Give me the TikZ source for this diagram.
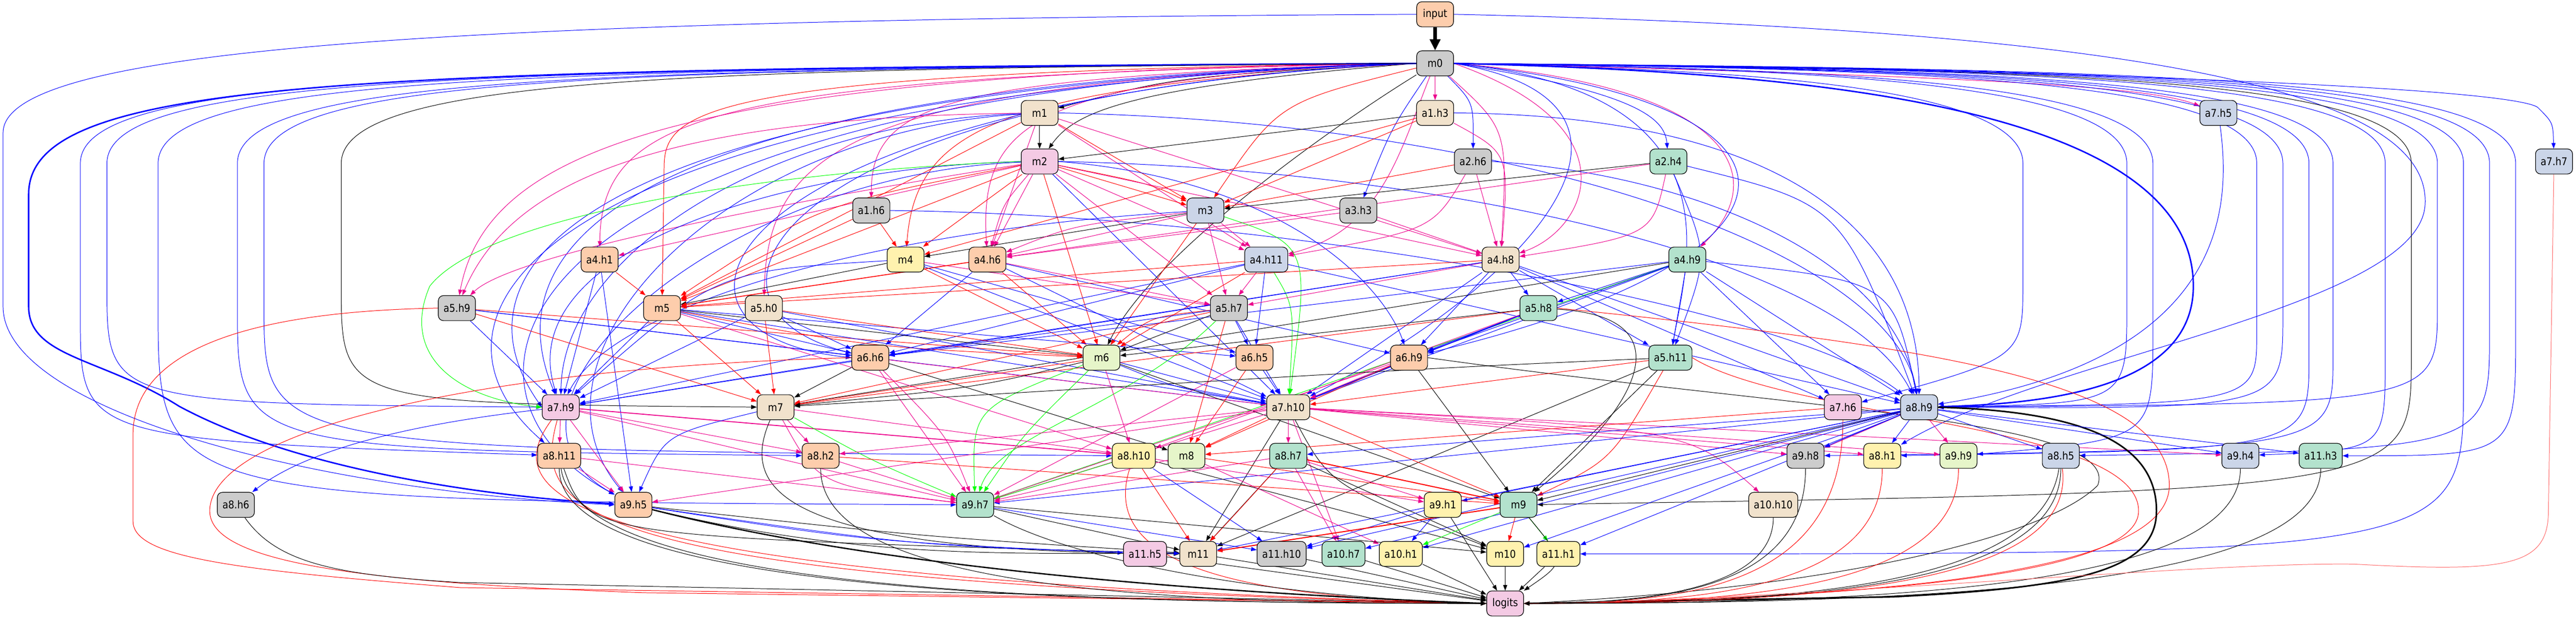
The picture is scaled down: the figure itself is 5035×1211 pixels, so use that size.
\documentclass[tikz,border=0pt]{standalone}
\usepackage{fontspec}
\setmainfont{DejaVu Sans}
\newfontfamily\nodefont[FakeStretch=0.88]{DejaVu Sans}
\usetikzlibrary{arrows.meta,backgrounds}
\definecolor{cPe}{HTML}{FDCDAC}
\definecolor{cGr}{HTML}{CCCCCC}
\definecolor{cWh}{HTML}{F1E2CC}
\definecolor{cBl}{HTML}{CBD5E8}
\definecolor{cPk}{HTML}{F4CAE4}
\definecolor{cGn}{HTML}{B3E2CD}
\definecolor{cYe}{HTML}{FFF2AE}
\definecolor{cLg}{HTML}{E6F5C9}
\newcommand\tologL[3][ek]{\draw[#1] (#2) .. controls (#3,1150) and ({(#3+2900)/2},1181) .. (logits);}
\newcommand\tologR[3][ek]{\draw[#1] (#2) .. controls (#3,1150) and ({(#3+2990)/2},1181) .. (logits);}
\newcommand\lfan[5][eb]{\draw[#1] (m0.west) .. controls ({#2+700},135) and (#2,150) .. (#2,320) -- (#2,#3) .. controls #4 .. (#5);}
\newcommand\rfan[5][eb]{\draw[#1] (m0.east) .. controls ({#2-700},135) and (#2,150) .. (#2,320) -- (#2,#3) .. controls #4 .. (#5);}
\tikzset{
 nd/.style={draw=black, line width=0.6pt, rounded corners=5pt, minimum width=36pt, minimum height=24.5pt, inner xsep=5pt, inner ysep=0pt, font=\nodefont\fontsize{10.5}{12}\selectfont},
 e/.style={-{Triangle[length=5.5pt,width=4pt]}, line width=0.5pt},
 eb/.style={e, draw=blue},
 er/.style={e, draw=red},
 em/.style={e, draw=magenta},
 ek/.style={e, draw=black},
 eg/.style={e, draw=green},
 thk/.style={line width=1.4pt}
}
\begin{document}
\begin{tikzpicture}[x=0.5pt,y=-0.5pt]
\useasboundingbox (0,0) rectangle (5035,1211);
% nodes
\node[nd, fill=cPe] (input) at (2805,28) {input};
\node[nd, fill=cGr] (m0) at (2805,124) {m0};
\node[nd, fill=cWh] (m1) at (2032,221) {m1};
\node[nd, fill=cWh] (a1h3) at (2805,221) {a1.h3};
\node[nd, fill=cBl] (a7h5) at (4336,221) {a7.h5};
\node[nd, fill=cPk] (m2) at (2032,316) {m2};
\node[nd, fill=cGr] (a2h6) at (2879,316) {a2.h6};
\node[nd, fill=cGn] (a2h4) at (3261,316) {a2.h4};
\node[nd, fill=cBl] (a7h7) at (4992,316) {a7.h7};
\node[nd, fill=cGr] (a1h6) at (1703,412) {a1.h6};
\node[nd, fill=cBl] (m3) at (2356,412) {m3};
\node[nd, fill=cGr] (a3h3) at (2655,412) {a3.h3};
\node[nd, fill=cPe] (a4h1) at (1172,508) {a4.h1};
\node[nd, fill=cYe] (m4) at (1770,508) {m4};
\node[nd, fill=cPe] (a4h6) at (1930,508) {a4.h6};
\node[nd, fill=cBl] (a4h11) at (2475,508) {a4.h11};
\node[nd, fill=cWh] (a4h8) at (2933,508) {a4.h8};
\node[nd, fill=cGn] (a4h9) at (3298,508) {a4.h9};
\node[nd, fill=cGr] (a5h9) at (893,603) {a5.h9};
\node[nd, fill=cPe] (m5) at (1294,603) {m5};
\node[nd, fill=cWh] (a5h0) at (1493,603) {a5.h0};
\node[nd, fill=cGr] (a5h7) at (2402,603) {a5.h7};
\node[nd, fill=cGn] (a5h8) at (3007,603) {a5.h8};
\node[nd, fill=cPe] (a6h6) at (1701,700) {a6.h6};
\node[nd, fill=cLg] (m6) at (2153,700) {m6};
\node[nd, fill=cPe] (a6h5) at (2452,700) {a6.h5};
\node[nd, fill=cPe] (a6h9) at (2754,700) {a6.h9};
\node[nd, fill=cGn] (a5h11) at (3265,700) {a5.h11};
\node[nd, fill=cPk] (a7h9) at (1096,797) {a7.h9};
\node[nd, fill=cWh] (m7) at (1516,797) {m7};
\node[nd, fill=cWh] (a7h10) at (2518,797) {a7.h10};
\node[nd, fill=cPk] (a7h6) at (3602,797) {a7.h6};
\node[nd, fill=cBl] (a8h9) at (3751,797) {a8.h9};
\node[nd, fill=cPe] (a8h11) at (1093,892) {a8.h11};
\node[nd, fill=cPe] (a8h2) at (1604,892) {a8.h2};
\node[nd, fill=cYe] (a8h10) at (2216,892) {a8.h10};
\node[nd, fill=cLg] (m8) at (2319,892) {m8};
\node[nd, fill=cGn] (a8h7) at (2518,892) {a8.h7};
\node[nd, fill=cGr] (a9h8) at (3529,892) {a9.h8};
\node[nd, fill=cYe] (a8h1) at (3679,892) {a8.h1};
\node[nd, fill=cLg] (a9h9) at (3828,892) {a9.h9};
\node[nd, fill=cBl] (a8h5) at (4028,892) {a8.h5};
\node[nd, fill=cBl] (a9h4) at (4379,892) {a9.h4};
\node[nd, fill=cGn] (a11h3) at (4536,892) {a11.h3};
\node[nd, fill=cGr] (a8h6) at (461,988) {a8.h6};
\node[nd, fill=cPe] (a9h5) at (1238,988) {a9.h5};
\node[nd, fill=cGn] (a9h7) at (1906,988) {a9.h7};
\node[nd, fill=cYe] (a9h1) at (2820,988) {a9.h1};
\node[nd, fill=cGn] (m9) at (2968,988) {m9};
\node[nd, fill=cWh] (a10h10) at (3466,988) {a10.h10};
\node[nd, fill=cPk] (a11h5) at (2238,1084) {a11.h5};
\node[nd, fill=cWh] (m11) at (2342,1084) {m11};
\node[nd, fill=cGr] (a11h10) at (2505,1084) {a11.h10};
\node[nd, fill=cGn] (a10h7) at (2626,1084) {a10.h7};
\node[nd, fill=cYe] (a10h1) at (2738,1084) {a10.h1};
\node[nd, fill=cYe] (m10) at (2942,1084) {m10};
\node[nd, fill=cYe] (a11h1) at (3046,1084) {a11.h1};
\node[nd, fill=cPk] (logits) at (2942,1181) {logits};

\begin{pgfonlayer}{background}
% input
\draw[ek, line width=3.3pt, -{Triangle[length=11pt,width=10pt]}] (input) -- (m0);
\draw[eb] (input.west) .. controls (800,38) and (6,100) .. (6,260) -- (6,600) .. controls (6,800) and (600,960) .. (a9h5.west);
\draw[eb] (input.east) .. controls (4300,60) and (4750,200) .. (4740,400) .. controls (4730,600) and (4000,700) .. (a8h1);
% m0
\draw[ek] (m0.west) .. controls (2300,150) .. (m1);
\draw[ek] (m0.west) .. controls (2200,170) and (2100,220) .. (m2);
\draw[em] (m0) -- (a1h3);
\draw[eb] (m0) .. controls (2880,200) .. (a2h6);
\draw[eb] (m0) .. controls (2720,250) .. (a3h3);
\draw[eb] (m0.east) .. controls (3196,180) and (3254,230) .. (a2h4);
\draw[er] (m0) .. controls (2500,200) .. (m3);
\draw[er] (m0.west) .. controls (1950,170) and (1790,250) .. (m4);
\draw[er] (m0.west) .. controls (1350,140) and (1298,220) .. (1298,330) -- (m5);
\draw[em] (m0.west) .. controls (1850,150) and (1703,200) .. (a1h6);
\draw[em] (m0.west) .. controls (1400,150) and (1175,220) .. (a4h1);
\draw[em] (m0.west) .. controls (1300,140) and (950,300) .. (a5h9);
\draw[em] (m0.west) .. controls (2000,150) and (1915,250) .. (a4h6);
\draw[em] (m0.west) .. controls (1650,160) and (1500,300) .. (a5h0);
\draw[em] (m0) .. controls (2735,300) and (2700,450) .. (a4h11);
\draw[em] (m0) .. controls (2947,253) .. (a4h8);
\draw[em] (m0.east) .. controls (3200,250) and (3100,450) .. (a4h8);
\draw[em] (m0.east) .. controls (3400,170) and (3460,350) .. (a4h9);
\draw[em] (m0.east) .. controls (3900,150) and (4200,170) .. (a7h5);
\draw[ek] (m0) .. controls (2600,250) and (2250,500) .. (m6);
\draw[eb] (m0.east) .. controls (3590,200) and (3590,500) .. (a6h9);
\draw[eb] (m0.east) .. controls (3300,200) and (3000,550) .. (a7h10);
\draw[eb] (m0.east) .. controls (3400,180) and (3300,500) .. (a5h11);
\draw[eb,thk] (m0.east) .. controls (3500,140) and (4287,200) .. (4287,560) .. controls (4287,760) and (4000,790) .. (a8h9);
\draw[eb,thk] (m0.west) .. controls (700,135) and (56,150) .. (56,380) -- (56,600) .. controls (56,700) and (200,700) .. (350,795) .. controls (600,930) and (1000,975) .. (a9h5);
\draw[eb] (m0.west) .. controls (1300,160) and (950,450) .. (a7h9);
\draw[eb] (m0.west) .. controls (1200,170) and (850,500) .. (a7h9.west);
\draw[eb] (m0.west) .. controls (1100,180) and (760,600) .. (a8h11);
\draw[eb] (m0.west) .. controls (1000,170) and (800,750) .. (a9h5);
\draw[eb] (m0.west) .. controls (1500,180) and (1300,600) .. (a6h6);
\draw[eb] (m0.west) .. controls (1400,190) and (1200,650) .. (a6h6.west);
\lfan{157}{620}{(157,860)}{a8h11}
\lfan{209}{560}{(209,790)}{a7h9}
\lfan{309}{600}{(309,980)}{a9h7}
\lfan{464}{600}{(464,880)}{a8h2}
\lfan{516}{600}{(516,880)}{a8h10}
\lfan[ek]{667}{560}{(667,790)}{m7}
\rfan{3954}{550}{(3954,700)}{a7h6}
\rfan{4157}{600}{(4157,790)}{a8h9}
\rfan{4208}{650}{(4208,860)}{a9h9}
\rfan{4411}{650}{(4411,790)}{a8h9}
\rfan{4462}{620}{(4462,800)}{a8h9}
\rfan{4513}{700}{(4513,880)}{a8h1}
\rfan{4560}{700}{(4560,880)}{a9h8}
\rfan{4662}{700}{(4662,880)}{a9h4}
\rfan[ek]{4713}{700}{(4713,960)}{m9}
\rfan{4764}{600}{(4764,790)}{a8h9}
\rfan{4815}{750}{(4815,1084)}{a11h1}
\rfan{4866}{650}{(4866,880)}{a8h5}
\rfan{4917}{650}{(4917,892)}{a11h3}
\draw[eb] (m0.east) .. controls (4000,135) and (4900,170) .. (4960,210) .. controls (4990,240) .. (a7h7);
% m1
\draw[ek] (m1) -- (m2);
\draw[er] (m1) -- (m5);
\draw[er] (m1) -- (m3);
\draw[em] (m1) -- (a4h6);
\draw[em] (m1) -- (a4h11);
\draw[em] (m1) -- (a4h8);
\draw[em] (m1) .. controls (1300,230) and (1000,350) .. (a5h9);
\draw[eb] (m1) .. controls (1500,240) and (1100,500) .. (a7h9);
\draw[eb] (m1) .. controls (1400,260) and (1000,700) .. (a9h5);
\draw[eb] (m1.east) .. controls (3000,240) and (3700,500) .. (a8h9);
% m2
\draw[er] (m2) -- (m3);
\draw[er] (m2) .. controls (2250,360) .. (m3);
\draw[er] (m2) -- (m4);
\draw[em] (m2) -- (a4h6);
\draw[em] (m2) .. controls (1960,400) .. (a4h6);
\draw[em] (m2) -- (a4h1);
\draw[er] (m2) -- (m5);
\draw[er] (m2) .. controls (1600,400) .. (m5);
\draw[em] (m2) .. controls (1500,400) and (1000,500) .. (a5h9);
\draw[eb] (m2.west) .. controls (1500,330) and (1000,500) .. (a7h9);
\draw[eg] (m2.west) .. controls (1500,335) and (950,420) .. (840,560) .. controls (780,700) and (900,780) .. (a7h9.west);
\draw[eb] (m2) .. controls (1400,340) and (900,800) .. (a9h5);
\draw[er] (m2) -- (m6);
\draw[eb] (m2) -- (a7h10);
\draw[em] (m2) -- (a4h11);
\draw[em] (m2) -- (a5h7);
\draw[em] (m2) -- (a4h8);
\draw[eb] (m2.east) .. controls (2800,330) and (3600,500) .. (a8h9);
\draw[eb] (m2.east) .. controls (2500,350) and (2700,550) .. (a6h9);
% a1h3
\draw[ek] (a1h3) -- (m2);
\draw[er] (a1h3) -- (m3);
\draw[er] (a1h3) -- (m4);
\draw[em] (a1h3) .. controls (2950,300) .. (a4h8);
\draw[eb] (a1h3.east) .. controls (3400,225) and (3750,400) .. (a8h9);
% a2h6
\draw[er] (a2h6) -- (m3);
\draw[em] (a2h6) -- (a4h8);
\draw[em] (a2h6) .. controls (2800,450) .. (a4h11);
\draw[eb] (a2h6.east) .. controls (3300,340) and (3700,500) .. (a8h9);
% a2h4
\draw[ek] (a2h4) -- (m3);
\draw[em] (a2h4) -- (a4h6);
\draw[em] (a2h4) .. controls (3230,460) .. (a4h8);
\draw[eb] (a2h4) .. controls (3340,500) .. (a5h11);
\draw[eb] (a2h4) .. controls (3600,400) .. (a8h9);
% a3h3
\draw[em] (a3h3) -- (a4h6);
\draw[em] (a3h3) -- (a4h8);
% a1h6
\draw[er] (a1h6) -- (m4);
\draw[er] (a1h6) -- (m5);
\draw[eb] (a1h6.east) .. controls (2500,420) and (3500,600) .. (a8h9);
% m3
\draw[ek] (m3) -- (m4);
\draw[em] (m3) -- (a4h6);
\draw[em] (m3) .. controls (2100,440) .. (a4h6);
\draw[em] (m3) -- (a4h11);
\draw[eb] (m3) .. controls (1700,450) and (1200,600) .. (a7h9);
\draw[er] (m3) -- (m6);
\draw[eg] (m3) .. controls (2560,480) .. (a7h10);
\draw[em] (m3) -- (a5h7);
% m4
\draw[ek] (m4) -- (m5);
\draw[em] (m4) -- (a5h7);
\draw[eb] (m4) .. controls (1400,530) .. (a7h9);
\draw[er] (m4) -- (m6);
\draw[eb] (m4) -- (a6h5);
\draw[eb] (m4) -- (a7h10);
% a4h1
\draw[er] (a4h1) -- (m5);
\draw[eb] (a4h1) -- (a7h9);
\draw[eb] (a4h1) -- (a9h5);
% a4h6
\draw[er, line width=0.8pt] (a4h6) -- (m5);
\draw[eb] (a4h6) -- (a6h6);
\draw[em] (a4h6) -- (a5h7);
\draw[eb] (a4h6) -- (a7h10);
\draw[er] (a4h6) -- (m6);
\draw[eb] (a4h6) -- (a6h9);
% a4h11
\draw[er] (a4h11) -- (m5);
\draw[eg] (a4h11) .. controls (2530,600) .. (a7h10);
\draw[eb] (a4h11) -- (a6h6);
\draw[eb] (a4h11) -- (a6h5);
\draw[em] (a4h11) -- (a5h7);
\draw[eb] (a4h11) -- (a8h9);
\draw[er] (a4h11) -- (m6);
\draw[eb] (a4h11) -- (a7h9);
% a4h8
\draw[er] (a4h8) -- (m5);
\draw[eb] (a4h8) -- (a5h8);
\draw[eb] (a4h8) -- (a5h11);
\draw[eb] (a4h8) -- (a6h9);
\draw[eb] (a4h8) -- (a6h6);
\draw[em] (a4h8) -- (a5h7);
\draw[eb] (a4h8) -- (a7h10);
\draw[eb] (a4h8) -- (a8h9);
\draw[eb] (a4h8) -- (a7h6);
\draw[eb] (a4h8) -- (a7h9);
% a4h9
\draw[eb] (a4h9) -- (a5h8);
\draw[eb] (a4h9) -- (a5h11);
\draw[ek] (a4h9) -- (m7);
\draw[eg] (a4h9) -- (a9h7);
\draw[eb] (a4h9) -- (a7h10);
\draw[eb] (a4h9) -- (a6h6);
\draw[eb] (a4h9) -- (a8h9);
\draw[eb] (a4h9) .. controls (3700,550) .. (a8h9);
\draw[eb] (a4h9) -- (a7h6);
\draw[eb] (a4h9) -- (a6h9);
% a5h9
\draw[er] (a5h9.west) .. controls (450,610) and (260,700) .. (260,850) -- (260,1020) .. controls (260,1090) and (450,1115) .. (900,1150) -- (logits.west);
\draw[er] (a5h9) -- (m6);
\draw[eb] (a5h9) -- (a7h9);
\draw[eb] (a5h9) -- (a6h6);
\draw[er] (a5h9) -- (m7);
\draw[eb] (a5h9) -- (a7h10);
% m5
\draw[ek] (m5) -- (m6);
\draw[er] (m5) .. controls (1700,680) .. (m6);
\draw[er] (m5) -- (m7);
\draw[eb] (m5) -- (a6h6);
\draw[eb] (m5) -- (a6h5);
\draw[eb] (m5) -- (a7h9);
\draw[eb] (m5) -- (a7h10);
\draw[em] (m5) -- (a8h10);
% a5h0
\draw[er] (a5h0) -- (m6);
\draw[eb] (a5h0) -- (a6h6);
\draw[eb] (a5h0) -- (a7h10);
\draw[eb] (a5h0) -- (a7h9);
\draw[er] (a5h0) -- (m7);
% a5h7
\draw[ek] (a5h7) -- (m6);
\draw[er] (a5h7) .. controls (2250,620) .. (m6);
\draw[eb] (a5h7) -- (a6h5);
\draw[eg] (a5h7) .. controls (2200,800) and (1950,850) .. (a9h7);
\draw[er] (a5h7) -- (m8);
\draw[eb] (a5h7) -- (a7h10);
\draw[eb] (a5h7) -- (a6h6);
\draw[er] (a5h7) -- (m7);
% a5h8
\draw[eb, line width=1pt] (a5h8) -- (a7h10);
\draw[ek] (a5h8) -- (m6);
\draw[eb] (a5h8) -- (a6h9);
\draw[er] (a5h8) -- (m7);
\draw[ek] (a5h8) .. controls (3300,620) and (3200,800) .. (m9);
\draw[em] (a5h8) -- (a8h10);
\draw[er] (a5h8.east) .. controls (3800,680) and (4240,750) .. (4240,950) .. controls (4240,1120) and (3700,1170) .. (logits.east);
% a6h6
\draw[ek] (a6h6) -- (m7);
\draw[em] (a6h6) -- (a9h7);
\draw[em] (a6h6) .. controls (1850,850) .. (a9h7);
\draw[em] (a6h6) -- (a7h10);
\draw[ek] (a6h6) -- (m8);
\draw[eb] (a6h6) -- (a7h9);
\draw[er] (a6h6.west) .. controls (900,720) and (410,850) .. (410,1000) .. controls (410,1100) and (700,1140) .. (1260,1160) -- (logits.west);
% m6
\draw[er] (m6) -- (m7);
\draw[ek] (m6) .. controls (1900,760) .. (m7);
\draw[eb] (m6) -- (a7h10);
\draw[eb] (m6) .. controls (2300,760) .. (a7h10);
\draw[eg] (m6) .. controls (1900,800) .. (a9h7);
\draw[eg] (m6) .. controls (2000,850) .. (a9h7);
\draw[ek] (m6) -- (m9);
\draw[em] (m6) -- (a8h10);
% a6h5
\draw[eb] (a6h5) -- (a7h10);
\draw[er] (a6h5) -- (m8);
\draw[em] (a6h5) -- (a9h7);
% a6h9
\draw[em] (a6h9) -- (a7h10);
\draw[ek] (a6h9) -- (m9);
\draw[ek] (a6h9.east) .. controls (3500,800) and (4150,820) .. (4100,950) .. controls (4000,1050) and (3600,1150) .. (logits.east);
\draw[er] (a6h9) -- (m8);
\draw[em] (a6h9) -- (a9h7);
% a5h11
\draw[ek] (a5h11) -- (m9);
\draw[er] (a5h11) .. controls (3150,900) .. (m9);
\draw[ek] (a5h11) .. controls (2800,720) .. (m7);
\draw[er] (a5h11) -- (a7h10);
\draw[ek] (a5h11) -- (m11);
\draw[er] (a5h11.east) .. controls (3500,820) and (4180,830) .. (4180,1000) .. controls (4180,1120) and (3700,1170) .. (logits.east);
% a7h9
\draw[em] (a7h9) -- (a8h11);
\draw[eb] (a7h9) .. controls (800,830) and (600,880) .. (a8h6);
\draw[em, line width=0.9pt] (a7h9) -- (a8h10);
\draw[em] (a7h9) -- (a9h5);
\draw[em] (a7h9) -- (a9h7);
\draw[em] (a7h9) -- (a8h2);
\draw[er] (a7h9) .. controls (985,950) and (1000,1130) .. (logits.west);
\draw[er] (a7h9) .. controls (1040,1000) and (1100,1140) .. (logits.west);
% m7
\draw[em] (m7) -- (a8h2);
\draw[eb] (m7) .. controls (1300,850) .. (a9h5);
\draw[eg] (m7) .. controls (1700,900) .. (a9h7);
\draw[em] (m7) -- (a8h10);
\draw[ek] (m7) .. controls (1450,950) and (1500,1080) .. (m11);
\draw[em] (m7) .. controls (1600,950) .. (a9h7);
% a7h10
\draw[em] (a7h10) -- (a8h7);
\draw[em] (a7h10) -- (a8h2);
\draw[em] (a7h10) -- (a8h1);
\draw[em] (a7h10) -- (a9h8);
\draw[em] (a7h10) -- (a9h9);
\draw[em] (a7h10) -- (a9h4);
\draw[em] (a7h10) .. controls (3300,840) .. (a10h10);
\draw[er] (a7h10) -- (m9);
\draw[em] (a7h10) -- (a10h7);
\draw[er] (a7h10) -- (m8);
\draw[em] (a7h10) -- (a9h7);
\draw[em] (a7h10) -- (a9h5);
\draw[ek] (a7h10) -- (m11);
\draw[ek] (a7h10) .. controls (2600,950) .. (m10);
% a7h6
\tologR[er]{a7h6}{3602}
\draw[er] (a7h6) -- (m8);
% a8h9
\draw[ek, line width=1.5pt] (a8h9.east) .. controls (4100,805) and (4215,880) .. (4215,1000) .. controls (4215,1120) and (4050,1150) .. (3700,1168) -- (logits.east);
\draw[eb] (a8h9) -- (a8h7);
\draw[eb] (a8h9) -- (a9h1);
\draw[em] (a8h9) -- (a9h8);
\draw[eb] (a8h9) .. controls (3600,860) .. (a9h8);
\draw[eb] (a8h9) -- (a8h1);
\draw[em] (a8h9) -- (a9h9);
\draw[eb] (a8h9) -- (a8h5);
\draw[eb] (a8h9) -- (a11h3);
\draw[eb] (a8h9) -- (a9h4);
\draw[eb] (a8h9) -- (a10h1);
\draw[eb] (a8h9) -- (a11h1);
\draw[eb] (a8h9) -- (m10);
\draw[eb] (a8h9) -- (a11h10);
\draw[eb] (a8h9) -- (a9h7);
\draw[eb] (a8h9) -- (m11);
\draw[ek] (a8h9) -- (m9);
\draw[eb] (a8h9) -- (a10h7);
% a8h11
\draw[em] (a8h11) -- (a9h5);
\tologL{a8h11}{1093}
\tologL{a8h11}{1130}
\draw[ek] (a8h11) .. controls (1150,1050) .. (m11);
\draw[em] (a8h11) -- (a9h7);
% a8h2
\draw[em] (a8h2) -- (a9h7);
\draw[er] (a8h2) -- (m9);
\tologL{a8h2}{1604}
% a8h10
\draw[er] (a8h10) -- (m11);
\draw[eg] (a8h10) -- (a9h7);
\draw[er] (a8h10) .. controls (2150,1100) and (2400,1170) .. (logits.west);
\draw[eb] (a8h10) -- (a11h10);
\draw[ek] (a8h10) -- (m10);
\draw[em] (a8h10) -- (a9h1);
% m8
\draw[er] (m8) -- (m9);
\draw[em] (m8) -- (a9h7);
\draw[em] (m8) -- (a10h1);
% a8h7
\draw[er, line width=1pt] (a8h7) -- (m9);
\draw[em] (a8h7) -- (a9h1);
\draw[em] (a8h7) -- (a10h7);
\draw[ek] (a8h7) -- (m10);
\draw[ek] (a8h7) -- (m11);
\draw[er] (a8h7) .. controls (2420,1000) .. (m11);
\draw[em] (a8h7) -- (a9h7);
% right row 892 to logits
\tologR{a9h8}{3529}
\tologR[er]{a8h1}{3679}
\tologR[er]{a9h9}{3828}
\tologR{a8h5}{4028}
\tologR{a8h5}{3990}
\tologR[er]{a8h5}{4060}
\tologR{a9h4}{4379}
\tologR{a11h3}{4536}
\draw[e, draw=red!60] (a7h7) -- (4981,1000) .. controls (4981,1110) and (4900,1120) .. (4600,1104) .. controls (4300,1100) and (3500,1175) .. (logits.east);
\draw[eb] (a7h5) .. controls (4360,400) and (4360,700) .. (a8h9);
\draw[ek] (a8h6) .. controls (540,1100) and (650,1125) .. (900,1140) -- (logits.west);
% a9h5
\draw[ek, line width=1.3pt] (a9h5) .. controls (1600,1080) and (2100,1150) .. (logits.west);
\draw[eb] (a9h5) .. controls (1700,1060) .. (a11h5);
\draw[ek] (a9h5) .. controls (1800,1050) .. (m11);
\draw[ek] (a9h5) .. controls (1700,1100) and (2000,1080) .. (m11);
\draw[eb] (a9h5) .. controls (1800,1070) .. (m11);
% a9h7
\draw[ek] (a9h7) -- (m11);
\draw[ek] (a9h7) .. controls (2100,1100) and (2500,1170) .. (logits.west);
\draw[eb] (a9h7) -- (a11h10);
\draw[ek] (a9h7) -- (m10);
% a9h1
\draw[eb] (a9h1) -- (a10h1);
\draw[ek] (a9h1) -- (logits);
\draw[eb] (a9h1) -- (a11h10);
% m9
\draw[er] (m9) -- (m10);
\draw[eg] (m9) -- (a11h1);
\draw[eg] (m9) -- (a10h1);
\draw[ek] (m9) .. controls (3060,1100) .. (logits);
\draw[er, line width=1pt] (m9) -- (m11);
% bottom
\tologR{a10h10}{3466}
\draw[ek] (a11h5) -- (logits);
\draw[ek] (m11) -- (logits);
\draw[ek] (a11h10) -- (logits);
\draw[ek] (a10h7) -- (logits);
\draw[ek] (a10h1) -- (logits);
\draw[ek] (m10) -- (logits);
\draw[ek] (a11h1) -- (logits);
\end{pgfonlayer}
\end{tikzpicture}
\end{document}
